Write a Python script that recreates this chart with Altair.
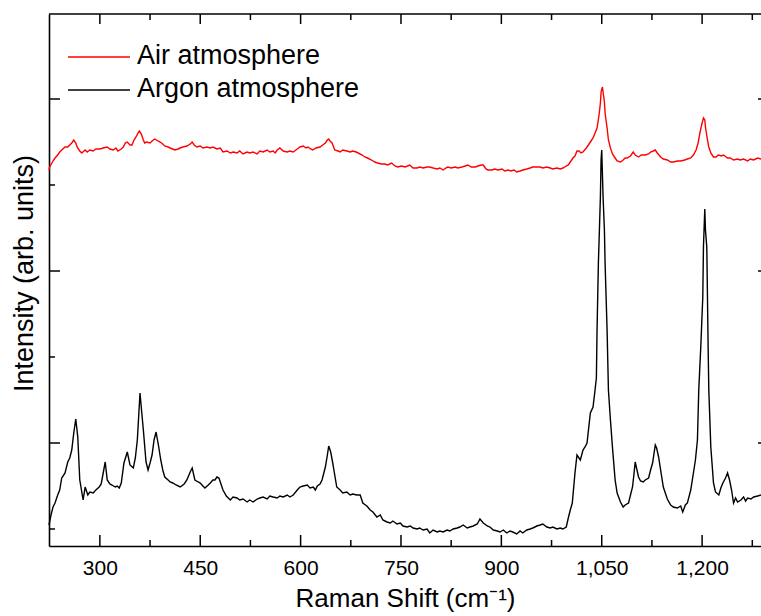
import altair as alt
import pandas as pd

# ---- data (wavenumber cm-1, intensity arb. units) ----
series_names = ["Air atmosphere", "Argon atmosphere"]
series_colors = ["#ff0000", "#000000"]

argon = [
    (224,210),(227,310),(230,390),(233,430),(237,510),(240,560),(243,680),(248,730),(252,840),(255,880),
    (258,960),(261,1130),(264,1270),(267,1090),(270,660),(275,460),(278,590),(282,510),(285,540),(290,530),
    (294,560),(299,590),(302,620),(305,730),(308,840),(311,660),(315,620),(318,610),(323,590),(326,600),
    (329,580),(332,630),(336,830),(341,940),(345,810),(350,780),(353,880),(356,1060),(360,1530),(362,1380),
    (365,1160),(369,840),(372,760),(375,830),(378,910),(381,1060),(384,1140),(388,990),(391,860),(394,760),
    (397,690),(402,660),(405,640),(409,630),(414,610),(420,590),(426,620),(430,660),(435,740),(438,780),
    (442,660),(447,640),(450,630),(454,600),(457,580),(462,610),(465,630),(469,660),(472,660),(475,690),
    (478,680),(481,620),(484,560),(489,500),(495,460),(499,490),(505,480),(509,460),(514,470),(520,440),
    (524,460),(529,440),(535,470),(539,480),(544,490),(550,470),(554,500),(559,490),(565,480),(569,500),
    (574,490),(580,510),(584,490),(589,510),(595,560),(599,590),(604,600),(610,610),(614,580),(619,590),
    (622,560),(625,600),(629,620),(632,660),(637,790),(640,910),(642,1000),(645,940),(648,830),(651,710),
    (654,590),(659,560),(663,530),(669,540),(674,510),(678,520),(684,510),(689,510),(693,430),(699,400),
    (704,360),(708,340),(714,290),(719,310),(723,260),(729,240),(734,230),(738,250),(744,220),(749,230),
    (753,200),(759,190),(764,200),(768,180),(774,170),(778,180),(783,160),(789,170),(793,130),(798,160),
    (804,140),(808,150),(813,140),(819,160),(823,150),(828,170),(834,180),(838,190),(843,210),(849,180),
    (853,190),(858,200),(864,220),(868,270),(873,230),(879,200),(883,190),(888,160),(894,150),(898,140),
    (903,160),(908,130),(913,150),(917,140),(923,120),(928,150),(932,130),(938,160),(943,170),(947,180),
    (953,200),(958,210),(962,220),(968,190),(973,180),(977,190),(983,170),(988,180),(992,170),(997,190),
    (1000,280),(1003,360),(1006,430),(1010,730),(1013,910),(1018,860),(1022,960),(1025,990),(1028,1030),(1033,1330),
    (1037,1390),(1040,1560),(1042,1680),(1043,2160),(1045,2830),(1048,3490),(1049,3860),(1050,3960),(1052,3490),(1054,3160),
    (1055,2830),(1058,2160),(1060,1560),(1063,1260),(1066,990),(1070,660),(1073,530),(1078,440),(1082,390),(1085,410),
    (1090,430),(1093,510),(1096,590),(1098,710),(1100,840),(1102,780),(1105,690),(1108,650),(1112,640),(1115,660),
    (1120,680),(1123,760),(1126,830),(1130,1010),(1132,980),(1135,890),(1138,760),(1142,590),(1148,470),(1153,410),
    (1157,390),(1163,380),(1168,400),(1171,340),(1175,410),(1178,430),(1183,560),(1187,730),(1190,860),(1193,1060),
    (1195,1560),(1198,1990),(1201,2490),(1202,2990),(1204,3370),(1205,3160),(1207,2990),(1208,2490),(1209,1990),(1210,1560),
    (1213,990),(1217,630),(1220,540),(1225,510),(1228,580),(1231,630),(1235,680),(1238,730),(1241,660),(1244,560),
    (1247,430),(1250,480),(1253,440),(1258,460),(1262,490),(1265,450),(1268,480),(1273,470),(1277,490),(1283,500),
    (1288,510),
]

air = [
    (224,3760),(225,3790),(230,3850),(233,3880),(237,3910),(240,3940),(243,3960),(248,3990),(252,3990),(255,4010),
    (258,4030),(261,4060),(264,4030),(266,3990),(270,3950),(273,3930),(278,3960),(281,3940),(285,3960),(290,3950),
    (294,3970),(300,3970),(305,3980),(311,3990),(315,3970),(320,3960),(324,3980),(327,3950),(332,3970),(335,3990),
    (338,4030),(341,4040),(345,4010),(348,4010),(351,4060),(354,4090),(357,4130),(359,4150),(362,4120),(365,4060),
    (367,4030),(370,4040),(375,4030),(378,4050),(382,4070),(387,4050),(390,4040),(394,4020),(397,4000),(402,3990),
    (405,3980),(409,3970),(412,3960),(417,3970),(420,3980),(424,3990),(430,4000),(435,4020),(438,4040),(441,4010),
    (445,3990),(450,4000),(454,3980),(460,3990),(465,3980),(469,3990),(475,3970),(480,3980),(484,3940),(490,3950),
    (495,3930),(499,3940),(505,3930),(509,3950),(514,3920),(520,3940),(524,3930),(529,3940),(535,3920),(539,3950),
    (544,3940),(550,3960),(554,3940),(559,3950),(562,3930),(565,3960),(569,3980),(574,3950),(580,3940),(584,3950),
    (589,3940),(595,3970),(599,3990),(604,4000),(608,3980),(611,3990),(615,3970),(618,3960),(623,3980),(629,3990),
    (633,4010),(637,4030),(640,4060),(642,4070),(644,4050),(647,4030),(651,3960),(656,3950),(659,3940),(663,3960),
    (669,3950),(674,3940),(678,3950),(683,3940),(686,3930),(692,3910),(696,3890),(700,3880),(706,3860),(711,3840),
    (715,3830),(721,3820),(726,3820),(730,3810),(736,3830),(741,3800),(745,3790),(751,3800),(756,3790),(760,3800),
    (763,3810),(768,3780),(774,3780),(778,3790),(783,3780),(789,3790),(793,3790),(798,3780),(804,3770),(808,3780),
    (813,3760),(817,3780),(820,3790),(825,3780),(831,3790),(835,3780),(841,3790),(846,3800),(850,3810),(855,3790),
    (861,3790),(865,3800),(870,3810),(873,3810),(877,3770),(880,3760),(886,3760),(890,3770),(895,3760),(901,3770),
    (905,3750),(910,3760),(914,3750),(919,3760),(923,3740),(928,3750),(932,3760),(938,3770),(943,3780),(947,3790),
    (953,3790),(958,3790),(962,3780),(968,3790),(973,3780),(977,3770),(983,3780),(988,3770),(992,3780),(997,3800),
    (1000,3810),(1004,3850),(1007,3880),(1010,3900),(1013,3950),(1016,3950),(1019,3930),(1022,3940),(1027,3980),(1030,4010),
    (1034,4050),(1037,4080),(1040,4130),(1043,4180),(1046,4310),(1048,4430),(1049,4540),(1051,4590),(1052,4540),(1054,4440),
    (1055,4330),(1058,4180),(1060,4060),(1063,3980),(1066,3920),(1070,3880),(1073,3850),(1078,3840),(1082,3860),(1085,3880),
    (1088,3880),(1093,3900),(1097,3940),(1100,3910),(1105,3890),(1109,3910),(1115,3910),(1120,3920),(1123,3940),(1127,3950),
    (1130,3960),(1133,3930),(1138,3890),(1142,3870),(1148,3860),(1153,3840),(1157,3840),(1163,3850),(1168,3850),(1174,3860),
    (1178,3870),(1183,3880),(1187,3910),(1191,3960),(1194,4030),(1197,4140),(1200,4230),(1202,4280),(1204,4260),(1205,4190),
    (1208,4060),(1210,3990),(1213,3930),(1217,3890),(1221,3890),(1224,3910),(1229,3900),(1232,3910),(1238,3880),(1242,3880),
    (1247,3860),(1253,3870),(1257,3860),(1262,3870),(1268,3850),(1272,3870),(1277,3860),(1283,3880),(1288,3870),
]

x_major_ticks = [300, 450, 600, 750, 900, 1050, 1200]
x_minor_ticks = [375, 525, 675, 825, 975, 1125, 1275]
y_major_ticks = [1030, 2750, 4470]
y_minor_ticks = [170, 1890, 3610]

x_domain = [224, 1288]
y_domain = [0, 5320]

X_TITLE = "Raman Shift (cm⁻¹)"
Y_TITLE = "Intensity (arb. units)"

W, H = 712, 532
FONT = "Liberation Sans"

rows = []
for name, pts in zip(series_names, [air, argon]):
    for v, i in pts:
        rows.append({"shift": v, "intensity": i, "series": name})
df = pd.DataFrame(rows)

xs = alt.Scale(domain=x_domain, nice=False, zero=False)
ys = alt.Scale(domain=y_domain, nice=False, zero=False)

lines = alt.Chart(df).mark_line(strokeWidth=1.4, interpolate="linear").encode(
    x=alt.X("shift:Q", scale=xs, title=X_TITLE,
            axis=alt.Axis(values=x_major_ticks, format=",d",
                          ticks=False, grid=False, labelFontSize=21, labelFont=FONT,
                          titleFontSize=26, titleFont=FONT, titleFontWeight="normal",
                          labelPadding=11, titlePadding=7, labelColor="black", titleColor="black",
                          domainColor="black", domainWidth=1.6)),
    y=alt.Y("intensity:Q", scale=ys, title=Y_TITLE,
            axis=alt.Axis(labels=False, ticks=False, grid=False,
                          titleFontSize=27, titleFont=FONT, titleFontWeight="normal",
                          titlePadding=11, titleColor="black", titleY=259,
                          domainColor="black", domainWidth=1.6)),
    color=alt.Color("series:N", scale=alt.Scale(domain=series_names, range=series_colors), legend=None),
    detail="series:N",
)

xmaj = pd.DataFrame({"shift": x_major_ticks})
xmin = pd.DataFrame({"shift": x_minor_ticks})
ymaj = pd.DataFrame({"intensity": y_major_ticks})
ymin = pd.DataFrame({"intensity": y_minor_ticks})

def xtick(data, y0, y1):
    return alt.Chart(data).mark_rule(color="black", strokeWidth=1.5).encode(
        x=alt.X("shift:Q", scale=xs, title=X_TITLE), y=alt.value(y0), y2=alt.value(y1))

def ytick(data, x0, x1):
    return alt.Chart(data).mark_rule(color="black", strokeWidth=1.5).encode(
        y=alt.Y("intensity:Q", scale=ys, title=Y_TITLE), x=alt.value(x0), x2=alt.value(x1))

ticks = [
    xtick(xmaj, H, H - 11), xtick(xmin, H, H - 6),
    xtick(xmaj, 0, 10), xtick(xmin, 0, 6),
    ytick(ymaj, 0, 11), ytick(ymin, 0, 6),
    ytick(ymaj, W - 3, W),
]

top_line = alt.Chart(pd.DataFrame({"a": [0]})).mark_rule(color="black", strokeWidth=1.6).encode(
    x=alt.value(0), x2=alt.value(W), y=alt.value(0))

legend_layers = []
for k, (name, col) in enumerate(zip(series_names, series_colors)):
    ly = 43 + 33 * k
    ld = pd.DataFrame({"label": [name]})
    legend_layers.append(alt.Chart(ld).mark_rule(color=col, strokeWidth=1.5).encode(
        x=alt.value(19), x2=alt.value(81), y=alt.value(ly)))
    legend_layers.append(alt.Chart(ld).mark_text(
        align="left", baseline="middle", fontSize=27, font=FONT, color="black").encode(
        x=alt.value(88), y=alt.value(ly - 1), text="label:N"))

chart = alt.layer(lines, *ticks, top_line, *legend_layers).properties(
    width=W, height=H,
    background="white",
    padding={"left": 49, "top": 14, "right": 0, "bottom": 70},
    autosize=alt.AutoSizeParams(type="none"),
).configure_view(stroke=None)

chart.save("out.html", embed_options={"renderer": "svg", "actions": False})
